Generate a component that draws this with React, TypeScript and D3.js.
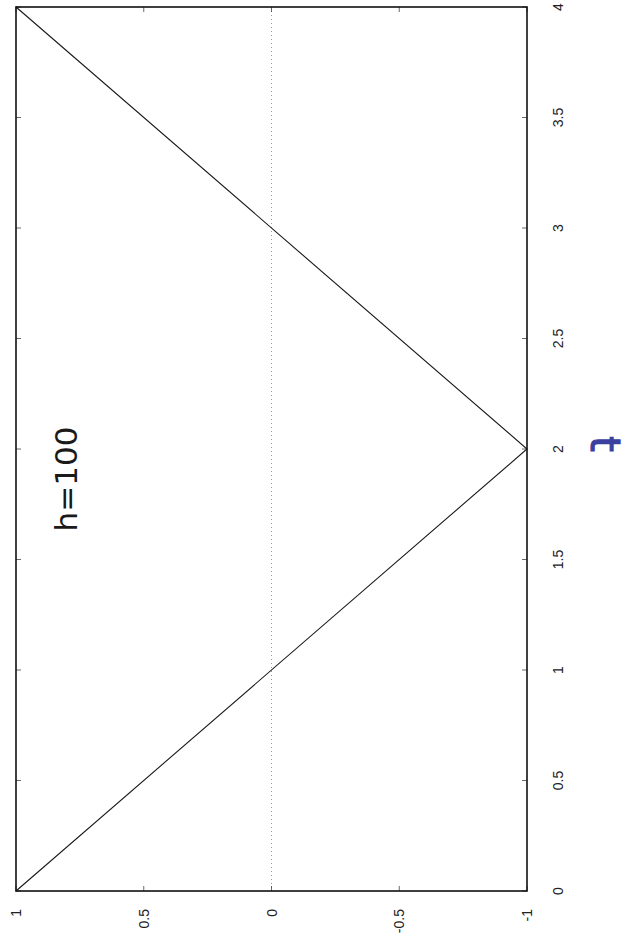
import React from 'react';
import * as d3 from 'd3';

// Triangle wave sampled at its corners: t on the long axis, f(t) across
const tValues = [0, 2, 4];
const fValues = [1, -1, 1];

const tTicks = [0, 0.5, 1, 1.5, 2, 2.5, 3, 3.5, 4];
const tTickLabels = ['0', '0.5', '1', '1.5', '2', '2.5', '3', '3.5', '4'];
const fTicks = [1, 0.5, 0, -0.5, -1];
const fTickLabels = ['1', '0.5', '0', '-0.5', '-1'];

const noteText = 'h=100';
const axisNote = 't';

const W = 629;
const H = 940;
const box = { left: 16, right: 527, top: 7, bottom: 891 };

export default function App() {
  // The figure is laid out sideways: t runs bottom-to-top, f runs left-to-right (1 → -1)
  const tScale = d3.scaleLinear().domain([0, 4]).range([box.bottom, box.top]);
  const fScale = d3.scaleLinear().domain([1, -1]).range([box.left, box.right]);

  const pts = tValues.map((t, i) => ({ t, f: fValues[i] }));
  const path = d3
    .line<{ t: number; f: number }>()
    .x((d) => fScale(d.f))
    .y((d) => tScale(d.t))(pts) as string;

  const tick = 5;
  const labelFont = '"Liberation Sans", Arial, Helvetica, sans-serif';

  return (
    <svg
      width={W}
      height={H}
      style={{ position: 'absolute', left: 0, top: 0, background: '#fff' }}
    >
      {/* zero reference line */}
      <line
        x1={fScale(0)}
        x2={fScale(0)}
        y1={box.top}
        y2={box.bottom}
        stroke="#9a9a9a"
        strokeWidth={1}
        strokeDasharray="1 3"
      />

      {/* tick marks on all four sides, pointing inward */}
      {tTicks.map((t) => (
        <g key={'tt' + t}>
          <line x1={box.left} x2={box.left + tick} y1={tScale(t)} y2={tScale(t)} stroke="#444" strokeWidth={0.8} />
          <line x1={box.right} x2={box.right - tick} y1={tScale(t)} y2={tScale(t)} stroke="#444" strokeWidth={0.8} />
        </g>
      ))}
      {fTicks.map((f) => (
        <g key={'ft' + f}>
          <line x1={fScale(f)} x2={fScale(f)} y1={box.bottom} y2={box.bottom - tick} stroke="#444" strokeWidth={0.8} />
          <line x1={fScale(f)} x2={fScale(f)} y1={box.top} y2={box.top + tick} stroke="#444" strokeWidth={0.8} />
        </g>
      ))}

      {/* the curve */}
      <path d={path} fill="none" stroke="#1a1a1a" strokeWidth={1.1} />

      {/* frame */}
      <rect
        x={box.left}
        y={box.top}
        width={box.right - box.left}
        height={box.bottom - box.top}
        fill="none"
        stroke="#111"
        strokeWidth={1.6}
      />

      {/* t tick labels, right side */}
      {tTicks.map((t, i) => (
        <text
          key={'tl' + t}
          transform={`translate(558,${tScale(t)}) rotate(-90)`}
          textAnchor="middle"
          dominantBaseline="central"
          fontFamily={labelFont}
          fontSize={14}
          fill="#222"
        >
          {tTickLabels[i]}
        </text>
      ))}

      {/* f tick labels, bottom */}
      {fTicks.map((f, i) => (
        <text
          key={'fl' + f}
          transform={`translate(${fScale(f)},909) rotate(-90)`}
          textAnchor="end"
          dominantBaseline="central"
          fontFamily={labelFont}
          fontSize={14}
          fill="#222"
        >
          {fTickLabels[i]}
        </text>
      ))}

      {/* handwritten annotation */}
      <text
        transform="translate(66,479) rotate(-90)"
        textAnchor="middle"
        dominantBaseline="central"
        fontFamily='"DejaVu Sans", sans-serif'
        fontSize={31}
        fill="#1a1a1a"
      >
        {noteText}
      </text>

      {/* hand-drawn axis name */}
      <text
        transform="translate(605,444) rotate(90)"
        textAnchor="middle"
        dominantBaseline="central"
        fontFamily='"DejaVu Sans", sans-serif'
        fontSize={40}
        fill="#3b3f9e"
        stroke="#3b3f9e"
        strokeWidth={1.2}
      >
        {axisNote}
      </text>
    </svg>
  );
}
